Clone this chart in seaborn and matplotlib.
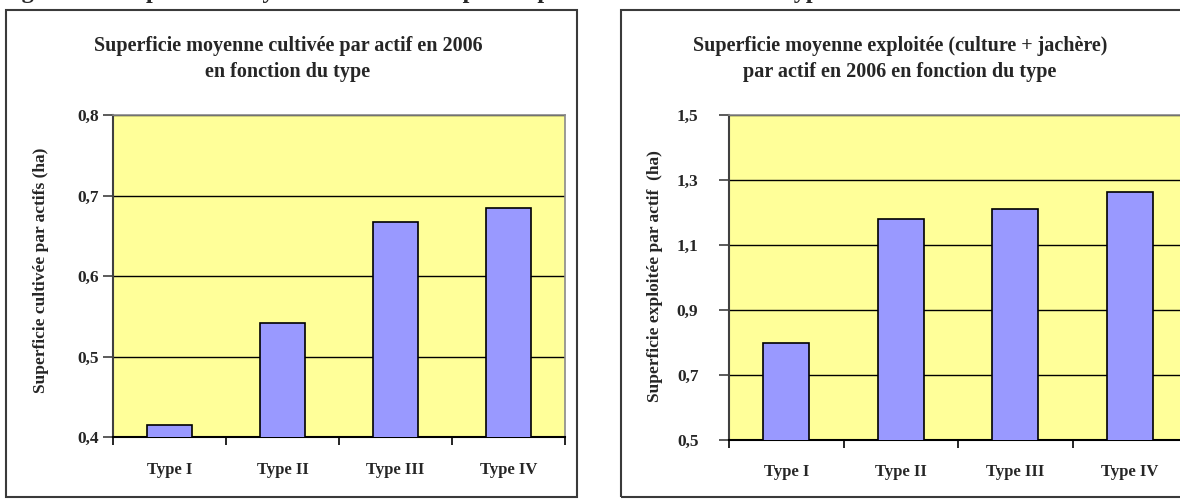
import matplotlib
matplotlib.use("Agg")
import matplotlib.pyplot as plt
from matplotlib.patches import Rectangle
import seaborn as sns
import pandas as pd

# Data
types = ["Type I", "Type II", "Type III", "Type IV"]
cultivee = [0.415, 0.542, 0.667, 0.684]
exploitee = [0.796, 1.180, 1.210, 1.262]

ticks_left = [0.4, 0.5, 0.6, 0.7, 0.8]
ticks_right = [0.5, 0.7, 0.9, 1.1, 1.3, 1.5]

caption = "Figure 12 : Superficie moyenne cultivée et exploitée par actif en fonction du type"
title_left = ["Superficie moyenne cultivée par actif en 2006", "en fonction du type"]
title_right = ["Superficie moyenne exploitée (culture + jachère)",
               "par actif en 2006 en fonction du type"]
ylabel_left = "Superficie cultivée par actifs (ha)"
ylabel_right = "Superficie exploitée par actif  (ha)"

sns.set_style("white")
plt.rcParams["font.family"] = ["Liberation Serif", "DejaVu Serif"]

W, H = 1180, 500
fig = plt.figure(figsize=(W / 100, H / 100), dpi=100)
fig.patch.set_facecolor("white")


def px_axes(x0, y_top, x1, y_bot):
    return fig.add_axes([x0 / W, (H - y_bot) / H, (x1 - x0) / W, (y_bot - y_top) / H])


def frame(x0, y0, x1, y1):
    fig.add_artist(Rectangle((x0 / W, (H - y1) / H), (x1 - x0) / W, (y1 - y0) / H,
                             transform=fig.transFigure, fill=False,
                             edgecolor="#3a3a3a", lw=1.5, zorder=0))


def fmt(v):
    return f"{v:.1f}".replace(".", ",")


def draw(ax, values, yticks, ylim, ypad):
    df = pd.DataFrame({"type": types, "val": values})
    sns.barplot(data=df, x="type", y="val", color="#9999FF", saturation=1,
                edgecolor="black", linewidth=1.2, width=0.4, ax=ax, zorder=3)
    ax.set_facecolor("#FFFF99")
    ax.set_ylim(*ylim)
    ax.set_xlim(-0.5, 3.5)
    ax.set_yticks(yticks)
    ax.set_yticklabels([fmt(v) for v in yticks], fontsize=12.5, fontweight="bold")
    ax.set_xticks([-0.5, 0.5, 1.5, 2.5, 3.5])
    ax.set_xticklabels([])
    ax.set_xticks(range(len(types)), minor=True)
    ax.set_xticklabels(types, minor=True, fontsize=12, fontweight="bold")
    ax.tick_params(axis="x", which="major", direction="out", length=6, width=1.2,
                   color="black", bottom=True)
    ax.tick_params(axis="x", which="minor", length=0, pad=18)
    ax.tick_params(axis="y", direction="out", length=7, width=1.2, color="#404040",
                   left=True, pad=ypad)
    ax.set_axisbelow(True)
    ax.yaxis.grid(True, color="black", lw=1.0)
    ax.xaxis.grid(False)
    ax.set_xlabel("")
    ax.set_ylabel("")
    for side in ("top", "right"):
        ax.spines[side].set_color("#8a8a8a")
        ax.spines[side].set_linewidth(1.2)
    ax.spines["left"].set_color("#404040")
    ax.spines["left"].set_linewidth(1.5)
    ax.spines["bottom"].set_color("black")
    ax.spines["bottom"].set_linewidth(1.5)


# Outer chart frames
frame(6, 10, 577, 497)
frame(621, 10, 1195, 497)

ax1 = px_axes(113, 115, 565, 437)
draw(ax1, cultivee, ticks_left, (0.4, 0.8), 3)

ax2 = px_axes(729, 115, 1187, 439.5)
draw(ax2, exploitee, ticks_right, (0.5, 1.5), 15)

# Titles
for i, line in enumerate(title_left):
    fig.text(288 / W, 1 - (46 + 26 * i) / H, line, ha="center", va="center",
             fontsize=14.5, fontweight="bold")
for i, line in enumerate(title_right):
    fig.text(900 / W, 1 - (46 + 26 * i) / H, line, ha="center", va="center",
             fontsize=14.5, fontweight="bold")

# Axis labels
fig.text(41 / W, 1 - 270 / H, ylabel_left, rotation=90, ha="center", va="center",
         fontsize=12.5, fontweight="bold")
fig.text(655 / W, 1 - 276 / H, ylabel_right, rotation=90, ha="center", va="center",
         fontsize=12.5, fontweight="bold")

# Document caption running above the charts
fig.text(0.0, 1 + 2.0 / H, caption, ha="left", va="baseline",
         fontsize=17.5, fontweight="bold")

fig.savefig("out.png", dpi=100, facecolor="white")
